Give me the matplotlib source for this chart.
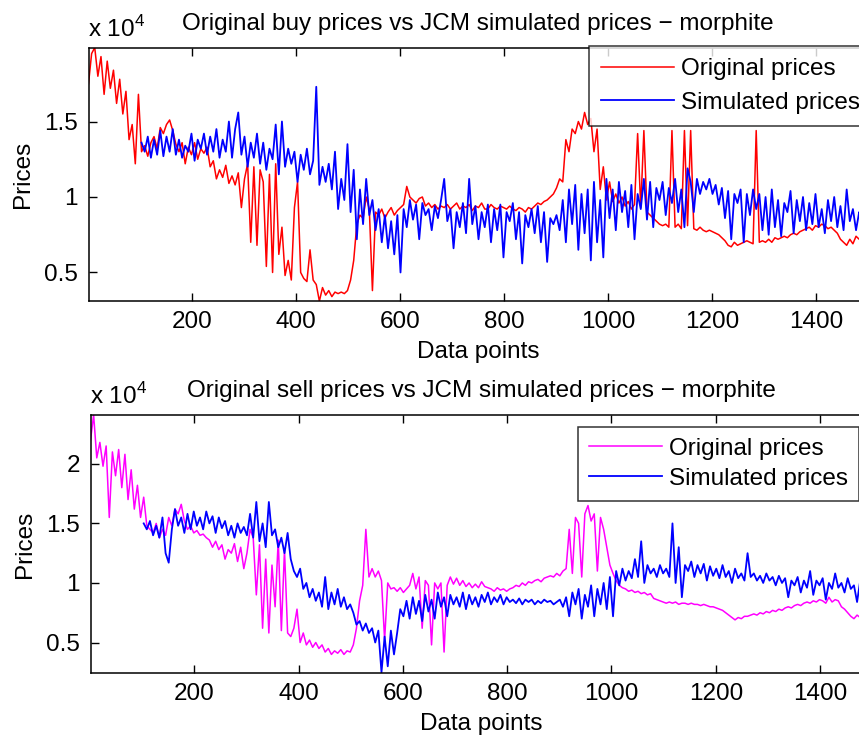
import numpy as np
import matplotlib
matplotlib.use('Agg')
import matplotlib.pyplot as plt
from matplotlib.ticker import FuncFormatter

plt.rcParams['font.family'] = ['Liberation Sans', 'DejaVu Sans']
plt.rcParams['mathtext.fontset'] = 'custom'
plt.rcParams['mathtext.rm'] = 'Liberation Sans'

# prices in units of 1e4, one value every STEP data points
STEP = 6
orig_start = 1
sim_start = 103

buy_orig = [
    1.75, 1.95, 1.99, 1.80, 1.93, 1.68, 1.90, 1.72, 1.84, 1.62,
    1.78, 1.55, 1.70, 1.38, 1.48, 1.22, 1.68, 1.30, 1.34, 1.27,
    1.36, 1.40, 1.32, 1.46, 1.42, 1.48, 1.51, 1.44, 1.35, 1.30,
    1.36, 1.22, 1.33, 1.28, 1.36, 1.25, 1.32, 1.29, 1.33, 1.20,
    1.24, 1.12, 1.18, 1.13, 1.21, 1.09, 1.14, 1.08, 1.16, 0.93,
    1.12, 1.22, 0.70, 1.20, 0.68, 1.18, 1.10, 0.54, 1.15, 0.50,
    1.22, 0.62, 0.80, 0.48, 0.58, 0.45, 0.93, 1.10, 0.50, 0.46,
    0.44, 0.65, 0.45, 0.42, 0.31, 0.40, 0.35, 0.38, 0.34, 0.37,
    0.36, 0.37, 0.36, 0.38, 0.45, 0.58, 0.82, 0.88, 0.86, 1.00,
    0.92, 0.38, 0.90, 0.88, 0.92, 0.86, 0.90, 0.93, 0.88, 0.91,
    0.93, 0.95, 1.07, 1.00, 0.98, 0.96, 0.99, 1.00, 0.94, 0.96,
    0.93, 0.95, 0.92, 0.94, 0.93, 0.95, 0.92, 0.94, 0.96, 0.92,
    0.94, 0.93, 0.95, 0.91, 0.94, 0.93, 0.96, 0.92, 0.92, 0.95,
    0.93, 0.92, 0.94, 0.93, 0.92, 0.94, 0.92, 0.91, 0.93, 0.92,
    0.90, 0.93, 0.92, 0.94, 0.96, 0.95, 0.97, 0.98, 1.00, 1.02,
    1.06, 1.12, 1.10, 1.38, 1.30, 1.45, 1.42, 1.50, 1.45, 1.56,
    1.48, 1.52, 1.30, 1.45, 1.05, 1.20, 0.98, 1.10, 0.97, 1.02,
    0.96, 1.00, 0.94, 0.97, 0.92, 0.95, 1.42, 0.93, 1.44, 0.90,
    0.88, 0.86, 0.84, 0.82, 0.81, 0.82, 0.80, 1.44, 0.80, 0.82,
    0.79, 1.44, 0.81, 1.44, 0.79, 0.78, 0.80, 0.78, 0.77, 0.78,
    0.77, 0.76, 0.75, 0.73, 0.71, 0.68, 0.67, 0.70, 0.68, 0.69,
    0.70, 0.71, 0.70, 0.69, 1.44, 0.70, 0.71, 0.70, 0.72, 0.70,
    0.73, 0.72, 0.73, 0.74, 0.73, 0.75, 0.76, 0.75, 0.77, 0.78,
    0.79, 0.80, 0.78, 0.81, 0.80, 0.82, 0.81, 0.79, 0.80, 0.78,
    0.76, 0.72, 0.70, 0.68, 0.72, 0.69, 0.74, 0.72, 0.75, 0.73,
]

buy_sim = [
    1.36, 1.30, 1.40, 1.26, 1.38, 1.28, 1.44, 1.27, 1.40, 1.30,
    1.45, 1.28, 1.38, 1.26, 1.34, 1.30, 1.42, 1.24, 1.38, 1.32,
    1.42, 1.28, 1.40, 1.30, 1.45, 1.26, 1.38, 1.30, 1.50, 1.26,
    1.45, 1.56, 1.28, 1.40, 1.20, 1.36, 1.26, 1.42, 1.22, 1.36,
    1.18, 1.32, 1.25, 1.48, 1.15, 1.50, 1.20, 1.32, 1.22, 1.30,
    1.10, 1.28, 1.18, 1.32, 1.15, 1.24, 1.73, 1.08, 1.20, 1.10,
    1.22, 1.05, 1.30, 0.92, 1.12, 0.98, 1.35, 0.90, 1.18, 0.72,
    1.05, 0.82, 1.12, 0.88, 0.98, 0.78, 0.92, 0.70, 0.88, 0.66,
    0.84, 0.62, 0.88, 0.50, 0.92, 0.80, 0.98, 0.85, 0.95, 0.72,
    0.96, 0.88, 0.92, 0.78, 0.94, 0.86, 0.98, 1.12, 0.84, 0.92,
    0.66, 0.90, 0.80, 0.96, 0.76, 1.12, 0.82, 0.94, 0.72, 0.90,
    0.80, 0.95, 0.70, 0.92, 0.78, 0.95, 0.60, 0.90, 0.84, 0.96,
    0.72, 0.90, 0.56, 0.88, 0.80, 0.92, 0.76, 0.94, 0.70, 0.90,
    0.57, 0.86, 0.82, 0.88, 0.78, 0.98, 0.70, 1.05, 0.82, 1.08,
    0.65, 1.02, 0.76, 1.05, 0.58, 1.10, 0.70, 0.98, 0.60, 1.12,
    0.86, 1.05, 0.78, 1.10, 0.90, 1.04, 0.80, 1.08, 0.72, 1.02,
    0.92, 1.12, 0.85, 1.10, 0.80, 1.06, 0.98, 1.10, 0.88, 1.06,
    0.96, 1.12, 0.90, 1.05, 0.80, 1.19, 1.10, 0.90, 1.12, 1.02,
    1.10, 1.05, 1.12, 1.02, 1.08, 0.95, 1.06, 0.86, 1.04, 0.72,
    1.02, 0.96, 1.05, 0.70, 1.02, 0.88, 1.05, 0.92, 1.02, 0.78,
    1.00, 0.75, 1.05, 0.80, 0.98, 0.74, 0.96, 0.90, 1.04, 0.76,
    0.98, 0.84, 1.00, 0.78, 0.96, 0.82, 1.02, 0.80, 0.92, 0.76,
    0.98, 0.84, 1.00, 0.80, 0.94, 0.78, 1.05, 0.84, 0.92, 0.78,
    0.90, 0.82, 0.88,
]

sell_orig = [
    2.20, 2.41, 2.05, 2.18, 1.98, 2.15, 1.55, 2.10, 1.90, 2.12,
    1.80, 2.08, 1.70, 1.95, 1.62, 1.82, 1.55, 1.72, 1.48, 1.45,
    1.42, 1.50, 1.38, 1.45, 1.40, 1.55, 1.48, 1.62, 1.58, 1.66,
    1.52, 1.45, 1.48, 1.42, 1.44, 1.40, 1.41, 1.38, 1.36, 1.30,
    1.35, 1.28, 1.32, 1.20, 1.28, 1.25, 1.33, 1.18, 1.30, 1.12,
    1.25, 1.45, 1.38, 0.90, 1.32, 0.62, 1.20, 0.58, 1.15, 0.80,
    1.36, 0.60, 1.28, 0.58, 0.55, 0.62, 0.78, 0.50, 0.58, 0.48,
    0.52, 0.46, 0.50, 0.45, 0.48, 0.42, 0.45, 0.40, 0.43, 0.41,
    0.44, 0.40, 0.43, 0.42, 0.48, 0.62, 0.85, 0.98, 1.45, 1.05,
    1.12, 1.05, 1.10, 1.02, 0.52, 1.00, 0.95, 0.96, 0.93, 0.96,
    0.92, 0.95, 0.98, 1.08, 0.95, 1.05, 0.62, 1.02, 0.98, 0.48,
    1.00, 0.95, 1.00, 0.42, 0.98, 1.05, 0.99, 1.04, 0.98, 1.02,
    0.97, 1.00, 0.96, 0.99, 0.96, 1.01, 0.97, 0.96, 0.95, 0.93,
    0.96, 0.94, 0.95, 0.93, 0.95, 0.96, 0.98, 0.97, 1.00, 0.98,
    1.01, 1.00, 1.02, 1.03, 1.01, 1.04, 1.05, 1.06, 1.05, 1.08,
    1.06, 1.10, 1.12, 1.45, 1.08, 1.55, 1.50, 1.05, 1.58, 1.65,
    1.52, 1.58, 1.10, 1.55, 1.45, 1.30, 1.15, 1.08, 1.02, 0.98,
    0.96, 0.95, 0.93, 0.94, 0.92, 0.93, 0.91, 0.92, 0.90, 0.91,
    0.87, 0.86, 0.85, 0.84, 0.83, 0.84, 0.83, 0.84, 0.82, 0.83,
    0.83, 0.82, 0.83, 0.82, 0.82, 0.81, 0.82, 0.81, 0.80, 0.80,
    0.79, 0.78, 0.77, 0.75, 0.73, 0.71, 0.69, 0.71, 0.70, 0.72,
    0.72, 0.73, 0.74, 0.73, 0.75, 0.74, 0.76, 0.75, 0.77, 0.76,
    0.78, 0.77, 0.79, 0.80, 0.79, 0.81, 0.82, 0.81, 0.83, 0.84,
    0.83, 0.85, 0.84, 0.86, 0.85, 0.83, 0.88, 0.84, 0.86, 0.85,
    0.80, 0.78, 0.75, 0.72, 0.70, 0.73, 0.71, 0.72, 0.70, 0.71,
]

sell_sim = [
    1.50, 1.45, 1.52, 1.40, 1.48, 1.38, 1.55, 1.25, 1.17, 1.45,
    1.62, 1.48, 1.55, 1.42, 1.58, 1.45, 1.60, 1.48, 1.55, 1.45,
    1.60, 1.50, 1.56, 1.42, 1.55, 1.46, 1.52, 1.40, 1.48, 1.38,
    1.50, 1.42, 1.47, 1.40, 1.58, 1.38, 1.68, 1.35, 1.50, 1.30,
    1.68, 1.40, 1.45, 1.30, 1.38, 1.25, 1.42, 1.20, 1.10, 1.05,
    1.12, 0.95, 1.00, 0.88, 0.95, 0.85, 0.92, 0.80, 1.05, 0.78,
    0.92, 0.82, 0.95, 0.80, 0.88, 0.78, 0.82, 0.75, 0.65, 0.68,
    0.60, 0.66, 0.58, 0.62, 0.50, 0.60, 0.25, 0.55, 0.30, 0.60,
    0.40, 0.58, 0.78, 0.72, 0.85, 0.70, 0.88, 0.74, 0.85, 0.68,
    0.90, 0.76, 0.86, 0.70, 0.92, 0.80, 0.88, 0.72, 0.90, 0.82,
    0.88, 0.80, 0.92, 0.78, 0.90, 0.82, 0.88, 0.80, 0.90, 0.84,
    0.92, 0.82, 0.88, 0.84, 0.90, 0.82, 0.88, 0.84, 0.86, 0.83,
    0.87, 0.82, 0.86, 0.84, 0.86, 0.82, 0.85, 0.83, 0.86, 0.84,
    0.85, 0.82, 0.84, 0.86, 0.80, 0.88, 0.72, 0.92, 0.82, 0.95,
    0.70, 0.90, 0.80, 0.98, 0.72, 0.95, 0.82, 1.00, 0.78, 1.05,
    0.72, 1.10, 0.98, 1.12, 1.02, 1.10, 1.04, 1.20, 1.05, 1.35,
    1.00, 1.15, 1.08, 1.12, 1.05, 1.15, 1.08, 1.12, 1.05, 1.50,
    1.00, 1.30, 0.88, 1.15, 1.10, 1.18, 1.05, 1.15, 1.08, 1.16,
    1.02, 1.14, 1.06, 1.12, 1.04, 1.15, 1.05, 1.10, 1.00, 1.12,
    1.04, 1.08, 1.02, 1.25, 1.05, 1.08, 1.02, 1.06, 1.00, 1.08,
    1.02, 1.05, 0.98, 1.06, 1.00, 1.04, 0.88, 1.02, 0.98, 1.05,
    0.92, 1.02, 0.96, 1.10, 0.90, 1.02, 0.98, 1.04, 0.86, 1.00,
    0.95, 1.08, 0.96, 1.00, 0.92, 1.04, 0.95, 0.98, 0.84, 1.02,
    0.86, 0.95, 0.88,
]

x_max = 1500
x_ticks = [200, 400, 600, 800, 1000, 1200, 1400]
labels = ['Original prices', 'Simulated prices']
FS = 17.5


def draw(ax, orig, sim, orig_color, title, yticks, ylim):
    x_o = orig_start + STEP * np.arange(len(orig))
    x_s = sim_start + STEP * np.arange(len(sim))
    ax.plot(x_o, orig, color=orig_color, lw=1.1, label=labels[0])
    ax.plot(x_s, sim, color='blue', lw=1.3, label=labels[1])
    ax.set_xlim(1, x_max)
    ax.set_ylim(*ylim)
    ax.set_xticks(x_ticks)
    ax.set_yticks(yticks)
    ax.yaxis.set_major_formatter(FuncFormatter(lambda v, p: f'{v:g}'))
    ax.tick_params(direction='in', top=True, right=True, length=5.5, width=1,
                   labelsize=FS, pad=7.5)
    for s in ax.spines.values():
        s.set_linewidth(1.1)
    ax.set_title(title, fontsize=FS, pad=13)
    ax.set_xlabel('Data points', fontsize=FS, labelpad=5.5)
    ax.set_ylabel('Prices', fontsize=FS, labelpad=7)
    ax.annotate(r'x 10$^{\mathregular{4}}$', xy=(0, 1), xycoords='axes fraction',
                xytext=(0, 8), textcoords='offset points', fontsize=FS,
                ha='left', va='baseline')


fig = plt.figure(figsize=(8.59, 7.38), dpi=100)
W, H = 859, 738

ax1 = fig.add_axes([88.5 / W, (H - 301) / H, 779.5 / W, 253 / H])
draw(ax1, buy_orig, buy_sim, 'red',
     'Original buy prices vs JCM simulated prices \u2212 morphite',
     [0.5, 1, 1.5], (0.311, 1.987))
leg1 = ax1.legend(loc='upper left', bbox_to_anchor=(589 / W, 1 - 46 / H),
                  bbox_transform=fig.transFigure, borderaxespad=0,
                  fontsize=FS, frameon=True, fancybox=False,
                  handlelength=3.0, handletextpad=0.3, labelspacing=0.47,
                  borderpad=0.5)
leg1.get_frame().set_edgecolor('black')
leg1.get_frame().set_linewidth(1.1)

ax2 = fig.add_axes([90.5 / W, 65 / H, 781.7 / W, 258 / H])
draw(ax2, sell_orig, sell_sim, 'magenta',
     'Original sell prices vs JCM simulated prices \u2212 morphite',
     [0.5, 1, 1.5, 2], (0.244, 2.41))
leg2 = ax2.legend(loc='upper left', bbox_to_anchor=(578 / W, 1 - 427 / H),
                  bbox_transform=fig.transFigure, borderaxespad=0,
                  fontsize=FS, frameon=True, fancybox=False,
                  handlelength=3.0, handletextpad=0.3, labelspacing=0.32,
                  borderpad=0.45)
leg2.get_frame().set_edgecolor('black')
leg2.get_frame().set_linewidth(1.1)

fig.savefig('out.png', dpi=100)
